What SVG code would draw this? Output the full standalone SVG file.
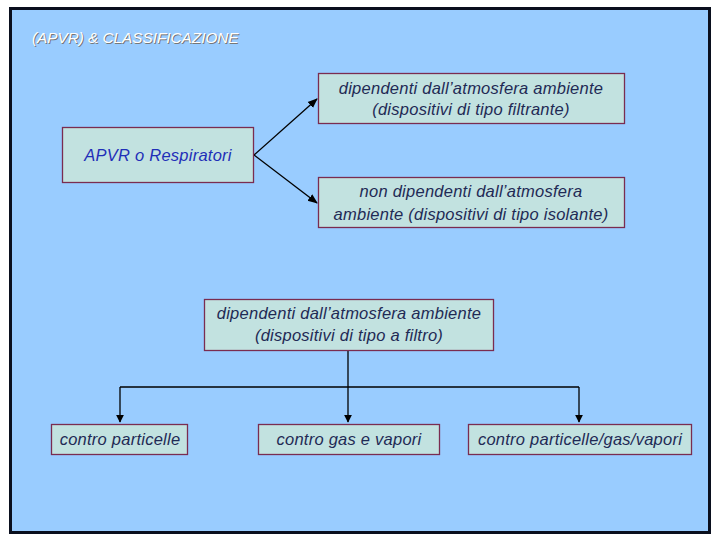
<svg xmlns="http://www.w3.org/2000/svg" width="720" height="540" viewBox="0 0 720 540">
<style>
.box{fill:#C2E2E0;stroke:#7A2C50;stroke-width:1.3}
.t{font-family:"Liberation Sans",Arial,sans-serif;font-style:italic;font-size:16.5px;letter-spacing:0.25px;fill:#1F2A55;text-anchor:middle}
.c{stroke:#000;stroke-width:1.3;fill:none}
</style>
<defs>
<marker id="ah" viewBox="0 0 10 10" refX="9" refY="5" markerWidth="8" markerHeight="8" markerUnits="userSpaceOnUse" orient="auto"><path d="M0,0 L10,5 L0,10 z" fill="#000"/></marker>
<marker id="ah2" viewBox="0 0 10 10" refX="9" refY="5" markerWidth="10" markerHeight="10" markerUnits="userSpaceOnUse" orient="auto"><path d="M0,1 L10,5 L0,9 z" fill="#000"/></marker>
</defs>
<rect x="0" y="0" width="720" height="540" fill="#fff"/>
<rect x="10.5" y="8.5" width="699" height="524" fill="#99CCFF" stroke="#0A0F1E" stroke-width="3"/>
<g id="title">
<text x="33" y="44" font-family="Liberation Sans,Arial,sans-serif" font-style="italic" font-size="15.3" fill="#777">(APVR) &amp; CLASSIFICAZIONE</text>
<text x="32" y="43" font-family="Liberation Sans,Arial,sans-serif" font-style="italic" font-size="15.3" fill="#fff">(APVR) &amp; CLASSIFICAZIONE</text>
</g>
<g id="connectors">
<path class="c" d="M254,155 L317,99" marker-end="url(#ah2)"/>
<path class="c" d="M254,155 L317,203" marker-end="url(#ah2)"/>
<path class="c" d="M348,350 L348,422" marker-end="url(#ah)"/>
<path class="c" d="M120,387 L579,387"/>
<path class="c" d="M120,387 L120,422" marker-end="url(#ah)"/>
<path class="c" d="M579,387 L579,422" marker-end="url(#ah)"/>
</g>
<g id="apvr">
<rect class="box" x="62.5" y="127.5" width="191" height="55"/>
<text class="t" x="158" y="161" style="fill:#1F2FB8">APVR o Respiratori</text>
</g>
<g id="dipendenti">
<rect class="box" x="318.5" y="73.5" width="306" height="50"/>
<text class="t" x="471" y="94">dipendenti dall’atmosfera ambiente</text>
<text class="t" x="471" y="115">(dispositivi di tipo filtrante)</text>
</g>
<g id="non-dipendenti">
<rect class="box" x="318.5" y="177.5" width="306" height="50"/>
<text class="t" x="471" y="197">non dipendenti dall’atmosfera</text>
<text class="t" x="471" y="220">ambiente (dispositivi di tipo isolante)</text>
</g>
<g id="filtro">
<rect class="box" x="204.5" y="299.5" width="289" height="51"/>
<text class="t" x="349" y="319">dipendenti dall’atmosfera ambiente</text>
<text class="t" x="349" y="341">(dispositivi di tipo a filtro)</text>
</g>
<g id="particelle">
<rect class="box" x="51.5" y="424.5" width="136" height="30"/>
<text class="t" x="120" y="445">contro particelle</text>
</g>
<g id="gas">
<rect class="box" x="258.5" y="424.5" width="181" height="30"/>
<text class="t" x="349" y="445">contro gas e vapori</text>
</g>
<g id="misti">
<rect class="box" x="468.5" y="424.5" width="223" height="30"/>
<text class="t" x="580" y="445">contro particelle/gas/vapori</text>
</g>
</svg>
